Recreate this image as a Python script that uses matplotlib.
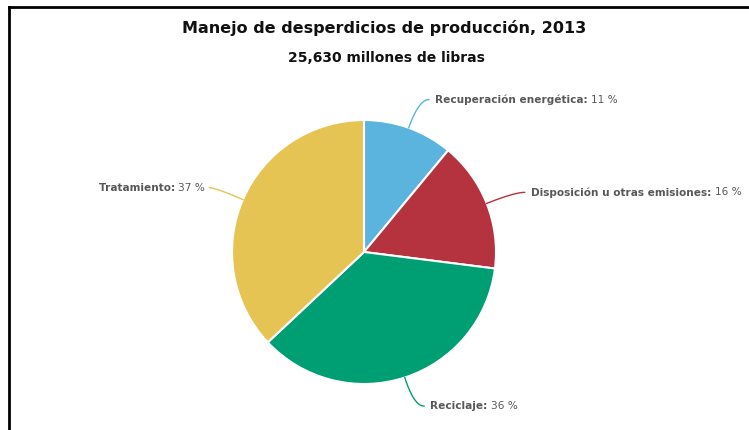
import numpy as np
import matplotlib
matplotlib.use("Agg")
import matplotlib.pyplot as plt
from matplotlib.lines import Line2D

# datos
nombres = ["Recuperación energética", "Disposición u otras emisiones", "Reciclaje", "Tratamiento"]
porcentajes = [11, 16, 36, 37]
colores = ["#5ab4de", "#b5323f", "#009e73", "#e5c454"]

titulo = "Manejo de desperdicios de producción, 2013"
subtitulo = "25,630 millones de libras"

W, H = 749, 430
cx, cy, R = 364, 252, 132  # centro y radio del pastel en pixeles

fig = plt.figure(figsize=(W / 100, H / 100), dpi=100)
ax = fig.add_axes([0, 0, 1, 1])
ax.axis("off")

wedges, _ = ax.pie(porcentajes, colors=colores, startangle=90, counterclock=False,
                   radius=1, wedgeprops=dict(edgecolor="white", linewidth=1.5))
ax.set_xlim(-cx / R, (W - cx) / R)
ax.set_ylim(-(H - cy) / R, cy / R)
ax.set_aspect("auto")

fig.text(384 / W, 1 - 28 / H, titulo, ha="center", va="center",
         fontsize=11.5, fontweight="bold", color="#111111")
fig.text(386 / W, 1 - 58 / H, subtitulo, ha="center", va="center",
         fontsize=10, fontweight="bold", color="#111111")

renderer = fig.canvas.get_renderer()
dist = 30 / R
for w, nombre, pct, col in zip(wedges, nombres, porcentajes, colores):
    ang = np.deg2rad((w.theta1 + w.theta2) / 2)
    x0, y0 = np.cos(ang), np.sin(ang)
    x1, y1 = (1 + dist) * x0, (1 + dist) * y0
    lado = 1 if x0 >= 0 else -1
    x2 = x1 + lado * (10 if lado > 0 else 6) / R
    # conector curvo
    t = np.linspace(0, 1, 30)
    bx = (1 - t) ** 2 * x0 + 2 * (1 - t) * t * x1 + t ** 2 * x2
    by = (1 - t) ** 2 * y0 + 2 * (1 - t) * t * y1 + t ** 2 * y1
    ax.plot(bx, by, color=col, lw=1)
    if lado > 0:
        xt = x2 + 6 / R
        t1 = ax.text(xt, y1, nombre + ": ", ha="left", va="center", fontsize=7.6,
                     fontweight="bold", color="#585858")
        bb = t1.get_window_extent(renderer)
        ax.annotate(f"{pct} %", xy=(bb.x1, (bb.y0 + bb.y1) / 2), xycoords="figure pixels",
                    ha="left", va="center", fontsize=7.6, color="#585858")
    else:
        xt = x2 - 4 / R
        t2 = ax.text(xt, y1, f"{pct} %", ha="right", va="center", fontsize=7.6,
                     color="#585858")
        bb = t2.get_window_extent(renderer)
        ax.annotate(nombre + ": ", xy=(bb.x0, (bb.y0 + bb.y1) / 2), xycoords="figure pixels",
                    ha="right", va="center", fontsize=7.6, fontweight="bold", color="#585858")

# marco recortado
fig.add_artist(Line2D([8.5 / W, 1], [1 - 6.5 / H, 1 - 6.5 / H], color="black", lw=2,
                      transform=fig.transFigure))
fig.add_artist(Line2D([8.5 / W, 8.5 / W], [0, 1 - 6.5 / H], color="black", lw=2,
                      transform=fig.transFigure))

fig.savefig("out.png", dpi=100)
